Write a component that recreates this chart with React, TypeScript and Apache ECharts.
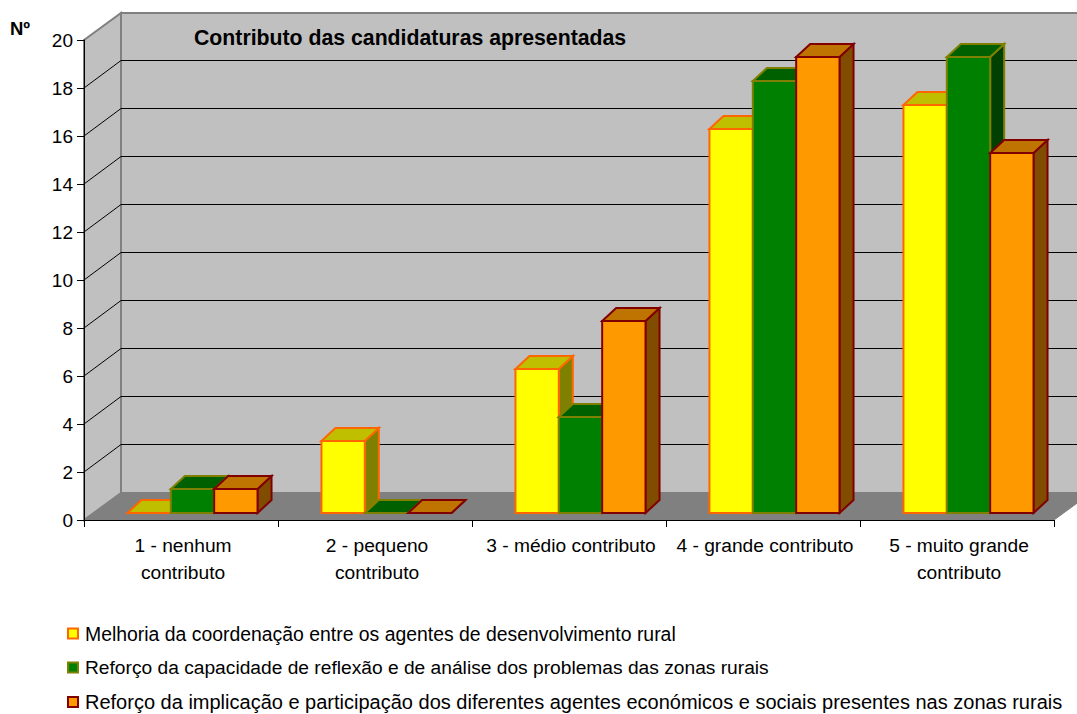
import React, { useEffect, useRef } from "react";
import * as echarts from "echarts";

const categories = [
  "1 - nenhum\ncontributo",
  "2 - pequeno\ncontributo",
  "3 - médio contributo",
  "4 - grande contributo",
  "5 - muito grande\ncontributo",
];
const coordenacao = [0, 3, 6, 16, 17];
const reflexao = [1, 0, 4, 18, 19];
const implicacao = [1, 0, 8, 19, 15];
const yTicks = [0, 2, 4, 6, 8, 10, 12, 14, 16, 18, 20];

const seriesNames = [
  "Melhoria da coordenação entre os agentes de desenvolvimento rural",
  "Reforço da capacidade de reflexão e de análise dos problemas das zonas rurais",
  "Reforço da implicação e participação dos diferentes agentes económicos e sociais presentes nas zonas rurais",
];
const legendFontSizes = [19.4, 19.2, 20];
const palette = [
  { front: "#FFFF00", top: "#BFBF00", side: "#808000", border: "#FF6600" },
  { front: "#008000", top: "#006000", side: "#004000", border: "#808000" },
  { front: "#FF9900", top: "#BF7300", side: "#804D00", border: "#800000" },
];

const FONT = "'Liberation Sans', Arial, sans-serif";
// projection of the 3D box
const WALL_DX = 37;
const WALL_DY = -27;
const BAR_DX = 14;
const BAR_DY = -13;
const BAR_FLOOR_LIFT = 7;

function renderBackdrop(_p: any, api: any) {
  const band = api.size([1, 0])[0];
  const xL = api.coord([0, 0])[0] - band / 2;
  const xR = api.coord([4, 0])[0] + band / 2;
  const y0 = api.coord([0, 0])[1];
  const yT = api.coord([0, yTicks[yTicks.length - 1]])[1];
  const children: any[] = [
    {
      type: "polygon",
      shape: {
        points: [
          [xL + WALL_DX, yT + WALL_DY],
          [xR + WALL_DX, yT + WALL_DY],
          [xR + WALL_DX, y0 + WALL_DY],
          [xL + WALL_DX, y0 + WALL_DY],
        ],
      },
      style: { fill: "#C0C0C0", stroke: "#808080", lineWidth: 2 },
    },
    {
      type: "polygon",
      shape: {
        points: [
          [xL, yT],
          [xL + WALL_DX, yT + WALL_DY],
          [xL + WALL_DX, y0 + WALL_DY],
          [xL, y0],
        ],
      },
      style: { fill: "#C0C0C0", stroke: "#808080", lineWidth: 2 },
    },
    {
      type: "polygon",
      shape: {
        points: [
          [xL, y0],
          [xL + WALL_DX, y0 + WALL_DY],
          [xR + WALL_DX, y0 + WALL_DY],
          [xR, y0],
        ],
      },
      style: { fill: "#808080", stroke: "#808080", lineWidth: 1 },
    },
  ];
  yTicks.slice(1, -1).forEach((t) => {
    const y = api.coord([0, t])[1];
    children.push({
      type: "polyline",
      shape: {
        points: [
          [xL, y],
          [xL + WALL_DX, y + WALL_DY - 0.5],
          [xR + WALL_DX, y + WALL_DY - 0.5],
        ],
      },
      style: { fill: "none", stroke: "#000000", lineWidth: 1 },
    });
  });
  return { type: "group", children };
}

function barRenderer(seriesIndex: number) {
  const c = palette[seriesIndex];
  return (_p: any, api: any) => {
    const idx = api.value(0);
    const v = api.value(1);
    const band = api.size([1, 0])[0];
    const w = band * 0.2235;
    const centre = api.coord([idx, 0])[0];
    const left = centre - band * 0.276 + seriesIndex * w;
    const right = left + w;
    const bottom = api.coord([idx, 0])[1] - BAR_FLOOR_LIFT;
    const top = api.coord([idx, v])[1] - BAR_FLOOR_LIFT;
    const sty = (fill: string) => ({ fill, stroke: c.border, lineWidth: 2, lineJoin: "miter" });
    return {
      type: "group",
      children: [
        {
          type: "polygon",
          shape: {
            points: [
              [right, top],
              [right + BAR_DX, top + BAR_DY],
              [right + BAR_DX, bottom + BAR_DY],
              [right, bottom],
            ],
          },
          style: sty(c.side),
        },
        {
          type: "polygon",
          shape: {
            points: [
              [left, top],
              [left + BAR_DX, top + BAR_DY],
              [right + BAR_DX, top + BAR_DY],
              [right, top],
            ],
          },
          style: sty(c.top),
        },
        {
          type: "polygon",
          shape: {
            points: [
              [left, top],
              [right, top],
              [right, bottom],
              [left, bottom],
            ],
          },
          style: sty(c.front),
        },
      ],
    };
  };
}

export default function App() {
  const ref = useRef<HTMLDivElement>(null);
  useEffect(() => {
    document.body.style.margin = "0";
    const chart = echarts.init(ref.current!, undefined, { renderer: "svg" });
    const valueSets = [coordenacao, reflexao, implicacao];
    chart.setOption({
      animation: false,
      backgroundColor: "#FFFFFF",
      title: {
        text: "Contributo das candidaturas apresentadas",
        left: 189,
        top: 22,
        textStyle: { fontFamily: FONT, fontSize: 21.25, fontWeight: "bold", color: "#000" },
      },
      legend: {
        orient: "vertical",
        left: 62,
        top: 619,
        height: 200,
        icon: "rect",
        itemWidth: 10,
        itemHeight: 10,
        itemGap: 15,
        data: seriesNames.map((name, i) => ({
          name,
          textStyle: { fontSize: legendFontSizes[i] },
        })),
        textStyle: { fontFamily: FONT, color: "#000", padding: [0, 0, 0, 2] },
      },
      grid: { left: 84, top: 40, width: 970, height: 480, containLabel: false },
      xAxis: {
        type: "category",
        data: categories,
        z: 10,
        axisLine: { show: true, lineStyle: { color: "#000", width: 1 } },
        axisTick: { show: true, alignWithLabel: false, length: 7, lineStyle: { color: "#000" } },
        axisLabel: {
          interval: 0,
          margin: 12,
          lineHeight: 27,
          padding: [0, 0, 0, 4],
          fontFamily: FONT,
          fontSize: 19.2,
          color: "#000",
        },
      },
      yAxis: {
        type: "value",
        min: 0,
        max: 20,
        interval: 2,
        z: 10,
        name: "Nº",
        nameLocation: "end",
        nameGap: 2,
        nameTextStyle: {
          fontFamily: FONT,
          fontSize: 18.5,
          fontWeight: "bold",
          color: "#000",
          align: "right",
          padding: [0, 54, 0, 0],
        },
        axisLine: { show: true, lineStyle: { color: "#000", width: 1 } },
        axisTick: { show: true, length: 7, lineStyle: { color: "#000" } },
        axisLabel: { margin: 11, fontFamily: FONT, fontSize: 19, color: "#000" },
        splitLine: { show: false },
      },
      series: [
        {
          type: "custom",
          z: 1,
          silent: true,
          renderItem: renderBackdrop,
          data: [[0, 0]],
          encode: { x: 0, y: 1 },
        },
        ...seriesNames.map((name, s) => ({
          type: "custom",
          name,
          z: 2 + s,
          renderItem: barRenderer(s),
          itemStyle: { color: palette[s].front, borderColor: palette[s].border, borderWidth: 2 },
          data: valueSets[s].map((v, i) => [i, v]),
          encode: { x: 0, y: 1 },
        })),
      ],
    });
    return () => chart.dispose();
  }, []);
  return <div ref={ref} style={{ width: 1077, height: 714 }} />;
}
